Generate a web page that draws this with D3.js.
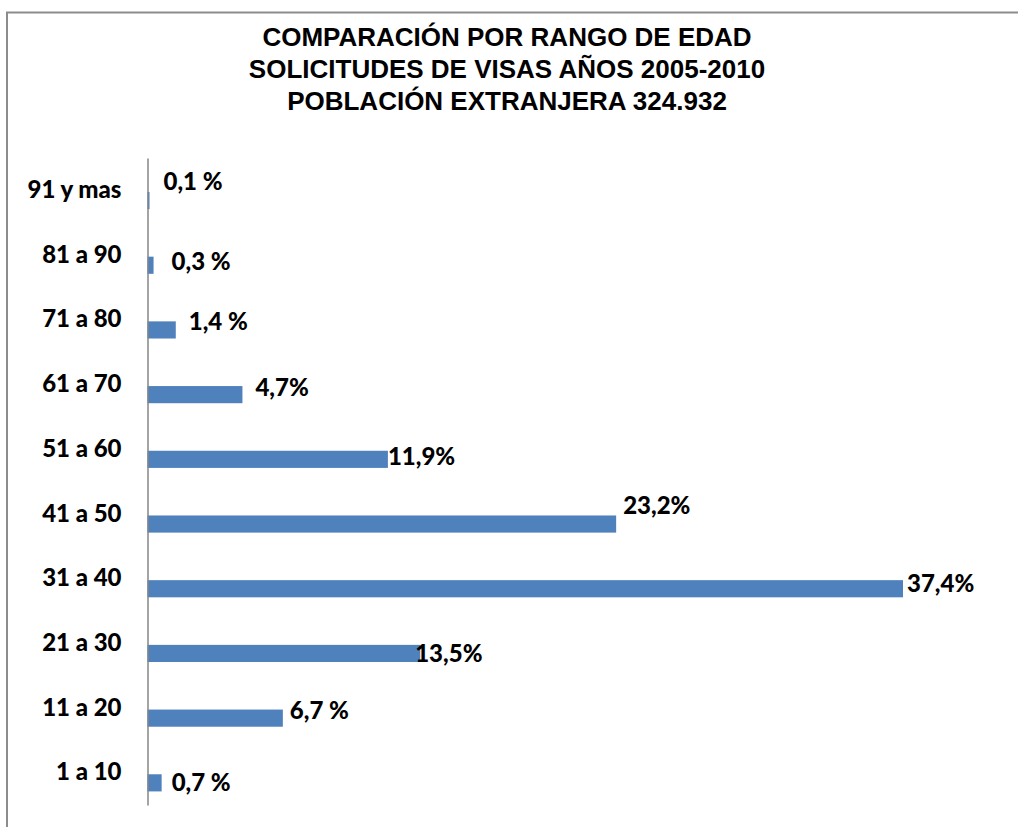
<!DOCTYPE html>
<html>
<head>
<meta charset="utf-8">
<script src="https://cdn.jsdelivr.net/npm/d3@7"></script>
<style>
  body { margin: 0; background: #fff; }
  .title { font-family: "Liberation Sans", Arial, sans-serif; font-weight: bold; font-size: 26px; fill: #000; }
  .cat text { font-family: Lato, "Open Sans", sans-serif; font-weight: 900; font-size: 24px; fill: #000; }
  .val { font-family: Lato, "Open Sans", sans-serif; font-weight: 900; font-size: 24px; fill: #000; }
</style>
</head>
<body>
<div id="graph"></div>
<script>
// age ranges, youngest first
var categories = ["1 a 10", "11 a 20", "21 a 30", "31 a 40", "41 a 50",
                  "51 a 60", "61 a 70", "71 a 80", "81 a 90", "91 y mas"];
var values = [0.7, 6.7, 13.5, 37.4, 23.2, 11.9, 4.7, 1.4, 0.3, 0.1];
var valueLabels = ["0,7 %", "6,7 %", "13,5%", "37,4%", "23,2%",
                   "11,9%", "4,7%", "1,4 %", "0,3 %", "0,1 %"];
var titleLines = ["COMPARACIÓN POR RANGO DE EDAD",
                  "SOLICITUDES DE VISAS AÑOS 2005-2010",
                  "POBLACIÓN EXTRANJERA 324.932"];

// labels were dragged around by hand in the original, so nudge them
var labelNudge = [[10, 0], [7, -8], [-5, 0], [4, -5], [7, -18],
                  [0, -3], [13, -7], [13, -8], [18, -4], [14, -19]];

var width = 1018, height = 827;

var svg = d3.select("#graph").append("svg")
    .attr("width", width)
    .attr("height", height);

// chart area frame (only top and left edges are inside the picture)
svg.append("path")
    .attr("d", "M7,827V12.5H1018")
    .attr("fill", "none")
    .attr("stroke", "#8c8c8c")
    .attr("stroke-width", 2);

// Title
svg.append("g").selectAll("text")
    .data(titleLines)
    .enter().append("text")
    .attr("class", "title")
    .attr("x", 507)
    .attr("y", function (d, i) { return 46 + i * 32; })
    .attr("text-anchor", "middle")
    .text(function (d) { return d; });

// Scales
var x = d3.scaleLinear().domain([0, 37.4]).range([147.5, 903]);
var y = d3.scaleBand().domain(categories.slice().reverse()).range([158, 805]);
var bw = y.bandwidth();

var rows = categories.map(function (c, i) {
    return { cat: c, value: values[i], label: valueLabels[i], nudge: labelNudge[i] };
});

// Bars
svg.selectAll("rect.bar")
    .data(rows)
    .enter().append("rect")
    .attr("class", "bar")
    .attr("x", x(0))
    .attr("y", function (d) { return y(d.cat) + bw * 0.525; })
    .attr("width", function (d) { return x(d.value) - x(0); })
    .attr("height", bw * 0.265)
    .attr("fill", "#4f81bd");

// Value labels
svg.selectAll("text.val")
    .data(rows)
    .enter().append("text")
    .attr("class", "val")
    .attr("x", function (d) { return x(d.value) + d.nudge[0]; })
    .attr("y", function (d) { return y(d.cat) + bw * 0.6575 + d.nudge[1]; })
    .attr("dy", "0.35em")
    .text(function (d) { return d.label; });

// Category axis
var axis = svg.append("g")
    .attr("class", "cat")
    .attr("transform", "translate(147.5,0)")
    .call(d3.axisLeft(y).tickSize(0).tickPadding(26));
axis.select(".domain").attr("stroke", "#868686").attr("stroke-width", 1.5);
</script>
</body>
</html>
